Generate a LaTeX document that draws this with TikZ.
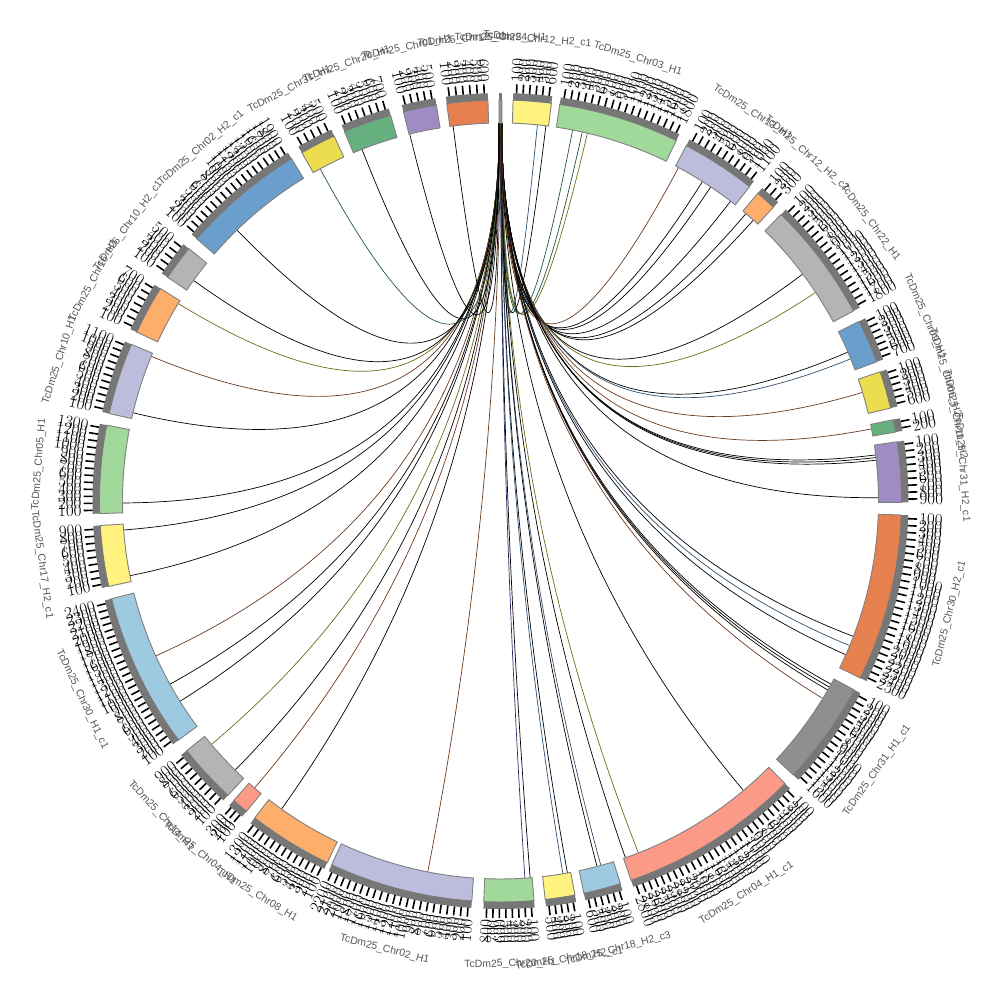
\documentclass[tikz,border=0pt]{standalone}
\usepackage{fontspec}
\newfontfamily\labfont{Liberation Sans}
\definecolor{cYl}{HTML}{FFF27F}
\definecolor{cGl}{HTML}{A1D99B}
\definecolor{cLv}{HTML}{BCBDDC}
\definecolor{cOl}{HTML}{FDAE6B}
\definecolor{cGy}{HTML}{B4B4B4}
\definecolor{cBl}{HTML}{6A9FCD}
\definecolor{cYd}{HTML}{EBDD4E}
\definecolor{cGd}{HTML}{66B07F}
\definecolor{cPu}{HTML}{9E8CC2}
\definecolor{cOr}{HTML}{E6814F}
\definecolor{cGk}{HTML}{8F8F8F}
\definecolor{cSa}{HTML}{FB9A86}
\definecolor{cLb}{HTML}{9ECAE1}
\definecolor{cTn}{HTML}{999999}
\definecolor{bandc}{HTML}{777777}
\definecolor{outl}{HTML}{808080}
\definecolor{namec}{HTML}{555555}
\definecolor{lBr}{HTML}{6B3A1F}
\definecolor{lOl}{HTML}{6E6A1A}
\definecolor{lGr}{HTML}{24563A}
\definecolor{lSt}{HTML}{2F4F6F}
\definecolor{lNv}{HTML}{2A2A6A}
\begin{document}
\begin{tikzpicture}[x=1bp,y=1bp,
  segblock/.style={fill=#1,draw=outl,line width=0.9bp},
  bandblock/.style={fill=bandc},
  tickmk/.style={draw=black,line width=1.6bp},
  ticklab/.style={inner sep=0pt,font=\fontsize{17}{17}\selectfont},
  namelab/.style={inner sep=0pt,text=namec,font=\labfont\fontsize{10.5}{10.5}\selectfont},
  linkln/.style={draw=#1,line width=0.7bp}]
\useasboundingbox (-500.5,-499) rectangle (499.5,501);
% links
\foreach \p/\lc [count=\j] in {5.6/lSt,6.9/black,11/lGr,12.5/lGr,13.3/lOl,28.1/lBr,32.3/black,33.8/black,37.5/black,40.5/black,42/black,53.1/black,56.5/lOl,66.8/black,67.9/lSt,73.3/lBr,79/lBr,83/black,83.4/black,83.8/black,89.5/black,111/black,112.5/lSt,114/black,119/black,119.5/black,120/black,121.5/lBr,140/black,158.6/lOl,160.7/black,164.6/lSt,165.2/black,169.8/black,170.5/lSt,175.5/black,176.3/lNv,191.1/lBr,215.4/black,220.6/lBr,224.6/black,229.9/lOl,238/black,241/black,245.8/lBr,258.6/black,265.6/black,269.7/black,283.5/black,292.5/lBr,301.5/lOl,305.7/black,315.8/black,331.5/lGr,338.5/black,346.1/black,352.8/black}{
  \pgfmathsetmacro\pt{0.3-0.6*\p/360}
  \coordinate (L\j) at ({90-\p}:378);
  \coordinate (T\j) at ({90-\pt}:378);
  \draw[linkln=\lc] (L\j) .. controls ({90-\p}:126) and ({90-\pt}:126) .. (T\j);
}
% segments
\foreach \s/\e/\c/\nm [count=\i] in {
-0.2/0.2/cTn/TcDm25\_Chr24\_H1,
1.8/7.3/cYl/TcDm25\_Chr12\_H2\_c1,
8.5/26.0/cGl/TcDm25\_Chr03\_H1,
27.6/38.4/cLv/TcDm25\_Chr13\_H1,
39.9/42.9/cOl/TcDm25\_Chr12\_H2\_c2,
44.4/61.7/cGy/TcDm25\_Chr22\_H1,
63.4/69.7/cBl/TcDm25\_Chr09\_H1,
71.2/76.6/cYd/TcDm25\_Chr06\_H2,
78.3/80.1/cGd/TcDm25\_Chr11\_H2,
81.5/90.2/cPu/TcDm25\_Chr31\_H2\_c1,
92.0/116.2/cOr/TcDm25\_Chr30\_H2\_c1,
118.1/133.1/cGk/TcDm25\_Chr31\_H1\_c1,
134.8/161.0/cSa/TcDm25\_Chr04\_H1\_c1,
162.6/168.0/cLb/TcDm25\_Chr18\_H2\_c3,
169.3/173.6/cYl/TcDm25\_Chr18\_H2\_c1,
175.2/182.4/cGl/TcDm25\_Chr20\_H1,
184.1/204.9/cLv/TcDm25\_Chr02\_H1,
205.6/217.8/cOl/TcDm25\_Chr08\_H1,
219.3/221.7/cSa/TcDm25\_Chr04\_H1,
222.8/231.5/cGy/TcDm25\_Chr14\_H1,
233.4/255.9/cLb/TcDm25\_Chr30\_H1\_c1,
257.7/266.5/cYl/TcDm25\_Chr17\_H2\_c1,
268.2/280.9/cGl/TcDm25\_Chr05\_H1,
282.6/293.0/cLv/TcDm25\_Chr10\_H1,
294.9/302.0/cOl/TcDm25\_Chr16\_H1,
303.9/309.0/cGy/TcDm25\_Chr10\_H2\_c1,
310.8/328.6/cBl/TcDm25\_Chr02\_H2\_c1,
330.3/335.5/cYd/TcDm25\_Chr31\_H1,
337.1/344.1/cGd/TcDm25\_Chr26\_H1,
346.0/350.8/cPu/TcDm25\_Chr01\_H1,
352.3/358.2/cOr/TcDm25\_Chr12\_c1}{
  \pgfmathsetmacro\ta{90-\s}
  \pgfmathsetmacro\tb{90-\e}
  \path[segblock=\c] (\ta:378) arc[start angle=\ta,end angle=\tb,radius=378]
     -- (\tb:401) arc[start angle=\tb,end angle=\ta,radius=401] -- cycle;
  \path[bandblock] (\ta:401) arc[start angle=\ta,end angle=\tb,radius=401]
     -- (\tb:408) arc[start angle=\tb,end angle=\ta,radius=408] -- cycle;
  \pgfmathtruncatemacro\n{round((\e-\s)/0.95)}
  \ifnum\n>0
  \foreach \k in {1,...,\n}{
    \pgfmathsetmacro\ph{\s+(\k-0.5)*(\e-\s)/\n}
    \pgfmathsetmacro\th{90-\ph}
    \pgfmathtruncatemacro\lab{\k*100}
    \draw[tickmk] (\th:408) -- (\th:417);
    \ifdim\ph pt>180pt
      \node[ticklab,anchor=east,rotate=\th+180] (tk-\i-\k) at (\th:419) {\lab};
    \else
      \node[ticklab,anchor=west,rotate=\th] (tk-\i-\k) at (\th:419) {\lab};
    \fi
  }
  \fi
  \pgfmathsetmacro\md{(\s+\e)/2}
  \pgfmathsetmacro\tm{90-\md}
  \pgfmathsetmacro\nrot{and(\md>90,\md<270) ? \tm+90 : \tm-90}
  \node[namelab,rotate=\nrot] (nm-\i) at (\tm:463) {\nm};
}
\end{tikzpicture}
\end{document}
